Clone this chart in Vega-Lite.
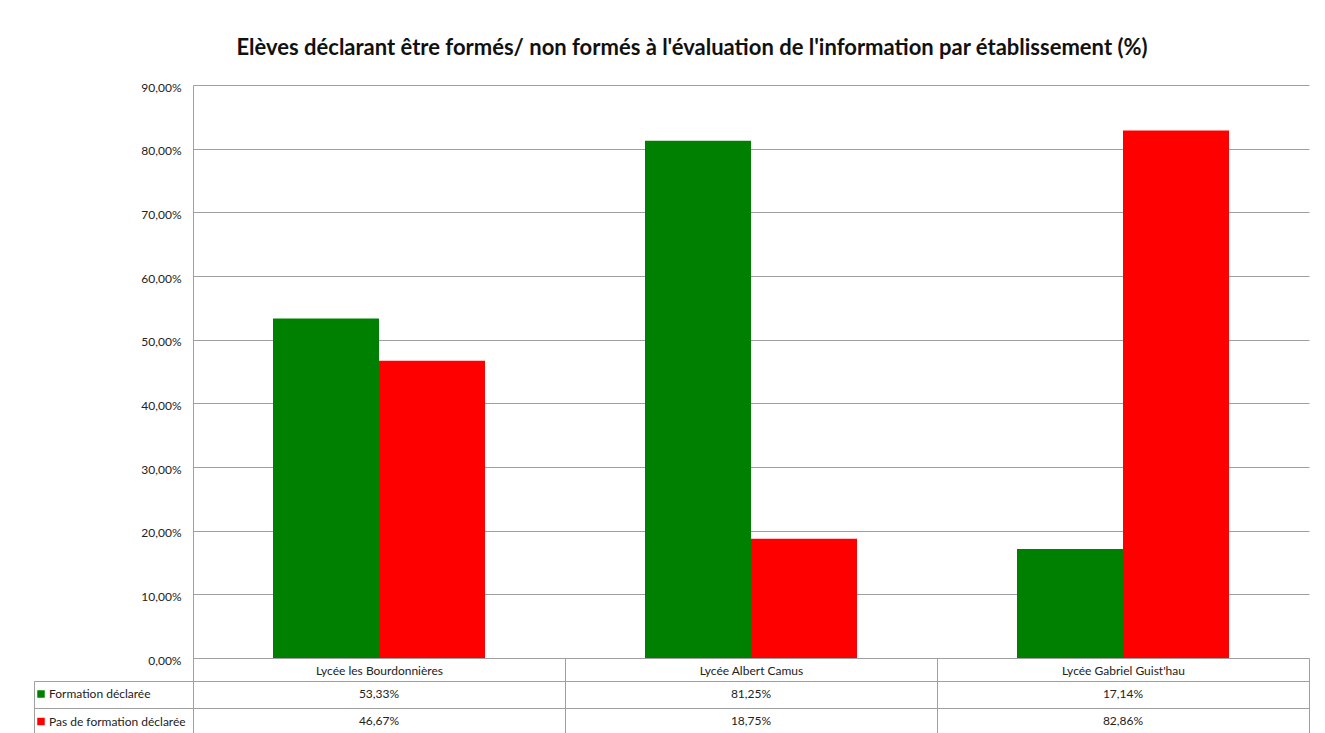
{
  "$schema": "https://vega.github.io/schema/vega-lite/v6.json",
  "background": "white",
  "padding": {"left": 33, "top": 37, "right": 5, "bottom": 0},
  "title": {
    "text": "Elèves déclarant être formés/ non formés à l'évaluation de l'information par établissement (%)",
    "font": "Lato", "fontSize": 22, "fontWeight": "bold", "color": "#111111",
    "anchor": "middle", "frame": "group", "dx": -59, "offset": 21
  },
  "datasets": {
    "d": [
      {"lycee": "Lycée les Bourdonnières", "serie": "Formation déclarée", "valeur": 0.5333},
      {"lycee": "Lycée les Bourdonnières", "serie": "Pas de formation déclarée", "valeur": 0.4667},
      {"lycee": "Lycée Albert Camus", "serie": "Formation déclarée", "valeur": 0.8125},
      {"lycee": "Lycée Albert Camus", "serie": "Pas de formation déclarée", "valeur": 0.1875},
      {"lycee": "Lycée Gabriel Guist'hau", "serie": "Formation déclarée", "valeur": 0.1714},
      {"lycee": "Lycée Gabriel Guist'hau", "serie": "Pas de formation déclarée", "valeur": 0.8286}
    ]
  },
  "data": {"name": "d"},
  "bounds": "flush",
  "spacing": 23,
  "resolve": {"legend": {"color": "independent"}},
  "vconcat": [
    {
      "width": 1116,
      "height": 573,
      "view": {"stroke": null},
      "mark": {"type": "bar"},
      "encoding": {
        "x": {
          "field": "lycee", "type": "nominal", "sort": null,
          "scale": {"paddingInner": 0, "paddingOuter": 0},
          "axis": {
            "title": null, "labelAngle": 0, "tickBand": "extent", "tickSize": 23,
            "labelPadding": -11, "labelBaseline": "middle", "domain": true, "grid": false
          }
        },
        "xOffset": {
          "field": "serie", "type": "nominal", "sort": null,
          "scale": {"paddingInner": 0, "paddingOuter": 0.7547}
        },
        "y": {
          "field": "valeur", "type": "quantitative",
          "scale": {"domain": [0, 0.9], "nice": false},
          "axis": {
            "title": null, "values": [0, 0.1, 0.2, 0.3, 0.4, 0.5, 0.6, 0.7, 0.8, 0.9],
            "format": ".2%", "ticks": false, "labelPadding": 12, "labelOffset": 2,
            "grid": true, "domain": true
          }
        },
        "color": {
          "field": "serie", "type": "nominal", "sort": null,
          "scale": {"domain": ["Formation déclarée", "Pas de formation déclarée"], "range": ["#008000", "#ff0000"]},
          "legend": {
            "orient": "none", "legendX": -158, "legendY": 603, "title": null,
            "symbolType": "square", "symbolSize": 56, "symbolStrokeWidth": 0,
            "labelFont": "Lato", "labelFontSize": 12, "labelColor": "#222222",
            "rowPadding": 15.5, "labelOffset": 2, "padding": 0
          }
        }
      }
    },
    {
      "width": 1116,
      "height": 53,
      "view": {"stroke": "#a0a0a0"},
      "mark": {"type": "text", "font": "Lato", "fontSize": 12, "color": "#222222"},
      "encoding": {
        "x": {
          "field": "lycee", "type": "nominal", "sort": null,
          "scale": {"paddingInner": 0, "paddingOuter": 0},
          "axis": {"title": null, "labels": false, "ticks": false, "domain": false, "grid": true, "tickBand": "extent", "orient": "bottom"}
        },
        "y": {
          "field": "serie", "type": "nominal", "sort": null,
          "scale": {"paddingInner": 0, "paddingOuter": 0},
          "axis": {"title": null, "labels": false, "ticks": true, "tickSize": -159, "offset": 159, "tickBand": "extent", "grid": true, "domain": true}
        },
        "text": {"field": "valeur", "type": "quantitative", "format": ".2%"}
      }
    }
  ],
  "config": {
    "locale": {
      "number": {"decimal": ",", "thousands": " ", "grouping": [3], "currency": ["", " €"], "percent": "%"}
    },
    "axis": {
      "labelFont": "Lato", "labelFontSize": 12, "labelColor": "#222222",
      "domainColor": "#a0a0a0", "gridColor": "#a0a0a0", "tickColor": "#a0a0a0",
      "domainWidth": 1, "gridWidth": 1, "tickWidth": 1
    }
  }
}
